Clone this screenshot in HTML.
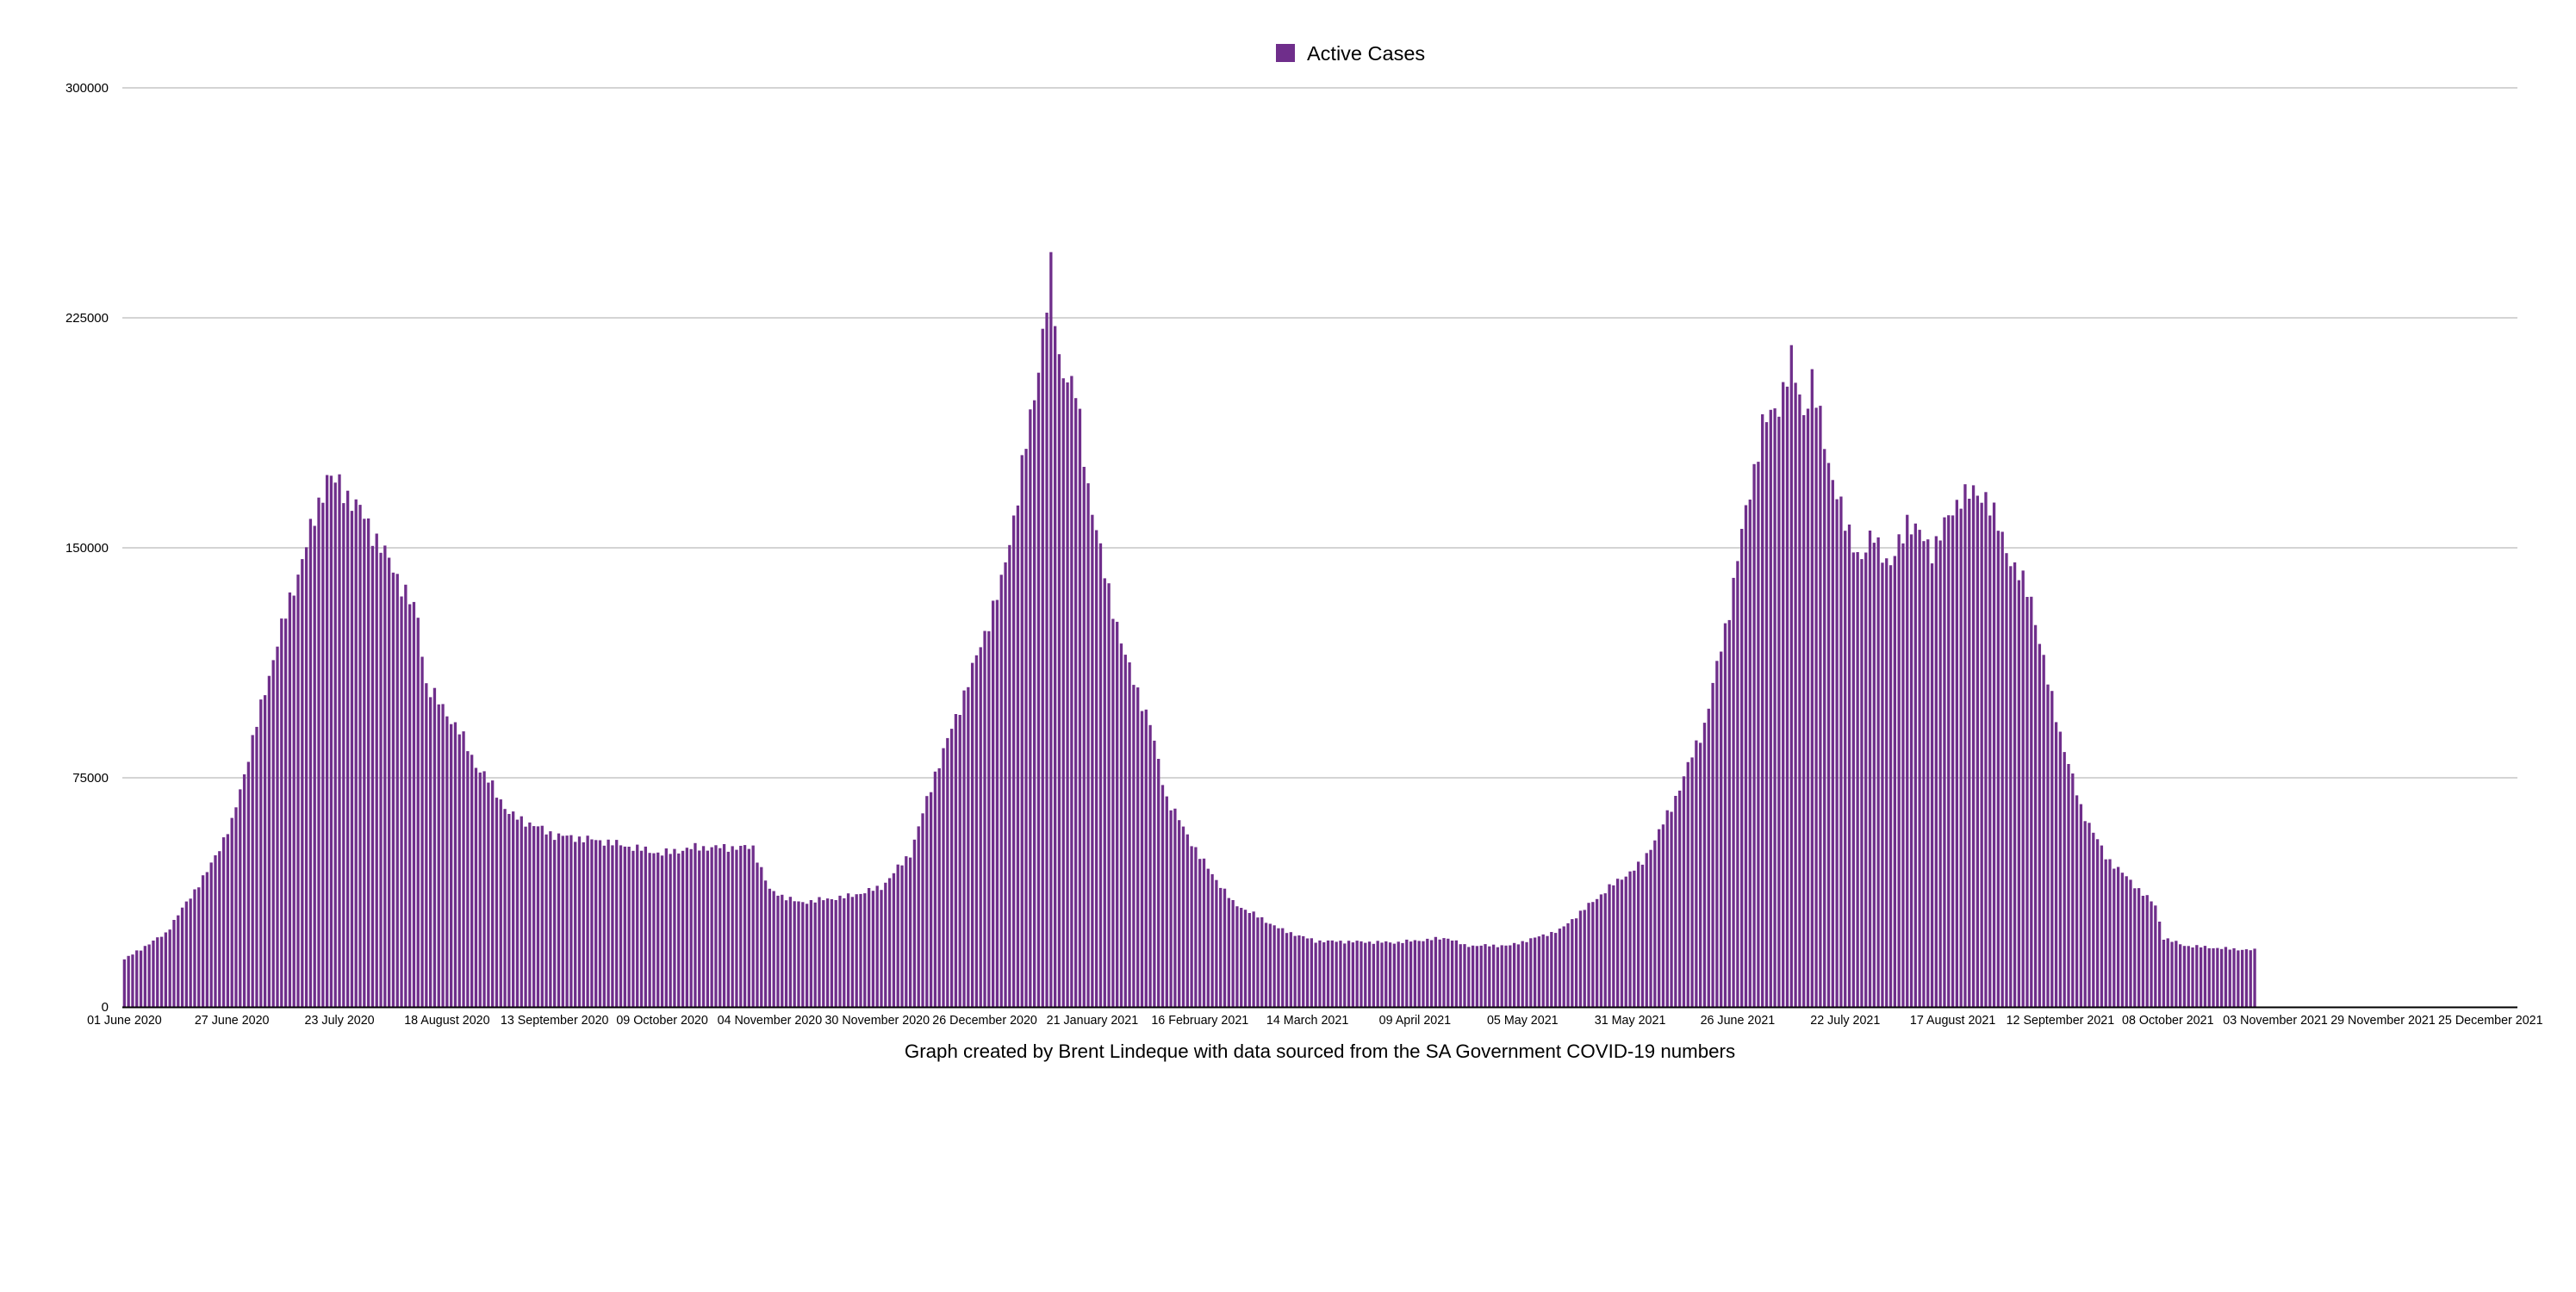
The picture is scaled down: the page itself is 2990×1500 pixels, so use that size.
<!DOCTYPE html>
<html><head><meta charset="utf-8"><style>
html,body{margin:0;padding:0;background:#fff;}
svg{display:block;font-family:"Liberation Sans",Arial,sans-serif;}
</style></head><body>
<svg id="s" width="2990" height="1500" xmlns="http://www.w3.org/2000/svg">
<g stroke="#d4d4d4" stroke-width="2">
<line x1="142" x2="2922" y1="102" y2="102"/>
<line x1="142" x2="2922" y1="369" y2="369"/>
<line x1="142" x2="2922" y1="636" y2="636"/>
<line x1="142" x2="2922" y1="903" y2="903"/>
</g>
<g font-size="15" fill="#000" text-anchor="end">
<text x="126" y="107">300000</text>
<text x="126" y="374">225000</text>
<text x="126" y="641">150000</text>
<text x="126" y="908">75000</text>
<text x="126" y="1174">0</text>
</g>
<g id="bars" fill="#6f2e8b"></g>
<line x1="142" x2="2922" y1="1169.5" y2="1169.5" stroke="#000" stroke-width="2"/>
<g id="xl" font-size="14.3" fill="#000" text-anchor="middle"></g>
<rect x="1481" y="51" width="22" height="21" fill="#6f2e8b"/>
<text x="1517" y="70" font-size="23.5" fill="#000">Active Cases</text>
<text x="1532" y="1228" font-size="22.3" fill="#000" text-anchor="middle">Graph created by Brent Lindeque with data sourced from the SA Government COVID-19 numbers</text>
</svg>
<script>
var pts=[[0,15.5],[10,24],[20,44],[26,60],[31,87],[37,119],[43,146],[49,173],[52,170],[57,162],[64,143],[70,127],[72,105],[80,90],[84,79],[88,72],[92,63],[103,56],[115,54],[129,50],[137,52],[151,52],[155,38],[162,34],[174,36],[182,39],[188,50],[194,76],[200,98],[206,122],[210,138],[214,167],[218,200],[222,239],[224,211],[228,200],[231,170],[235,141],[240,114],[246,92],[250,68],[258,49],[266,34],[278,25],[286,21.5],[305,21],[317,22.5],[321,20],[332,20],[344,25],[356,39],[364,47],[371,65],[379,92],[385,130],[389,162],[393,189],[397,197],[400,210],[403,194],[405,204],[409,178],[413,157],[417,146],[420,154],[424,143],[428,159],[434,149],[440,167],[446,167],[452,146],[457,133],[461,106],[465,84],[469,65],[475,49],[481,41],[487,33],[493,22.5],[498,20],[508,19],[515,18.5]];
pts=pts.map(function(p){return [p[0]>=490?p[0]:Math.round(p[0]*1.008),p[1]];});
function val(d){for(var i=0;i<pts.length-1;i++){var a=pts[i],b=pts[i+1];if(d>=a[0]&&d<=b[0]){return a[1]+(b[1]-a[1])*(d-a[0])/(b[0]-a[0]);}}return 0;}
var ns="http://www.w3.org/2000/svg",g=document.getElementById('bars'),step=2780/579;
for(var d=0;d<=515;d++){var v=val(d)*(1+0.02*Math.sin(d*2.7)+0.01*Math.sin(d*7.3));var h=v*1000/75000*267;
var r=document.createElementNS(ns,'rect');r.setAttribute('x',(142+d*step+0.7).toFixed(2));r.setAttribute('width','3.3');r.setAttribute('y',(1169-h).toFixed(1));r.setAttribute('height',h.toFixed(1));g.appendChild(r);}
var labs=["01 June 2020","27 June 2020","23 July 2020","18 August 2020","13 September 2020","09 October 2020","04 November 2020","30 November 2020","26 December 2020","21 January 2021","16 February 2021","14 March 2021","09 April 2021","05 May 2021","31 May 2021","26 June 2021","22 July 2021","17 August 2021","12 September 2021","08 October 2021","03 November 2021","29 November 2021","25 December 2021"];
var xl=document.getElementById('xl');
labs.forEach(function(t,i){var e=document.createElementNS(ns,'text');e.setAttribute('x',(142+(i*26+0.5)*step).toFixed(1));e.setAttribute('y','1189');e.textContent=t;xl.appendChild(e);});
</script>
</body></html>
